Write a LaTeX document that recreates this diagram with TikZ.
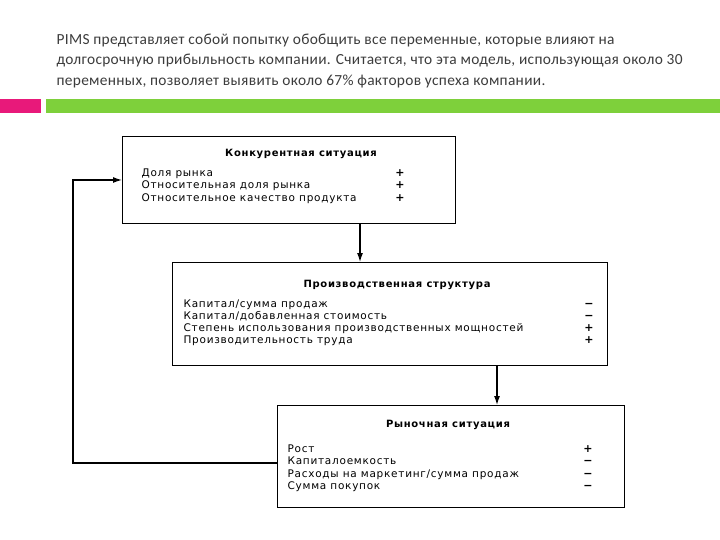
\documentclass[tikz,border=0pt]{standalone}
\usepackage{fontspec}
\setmainfont{Carlito}
\newfontfamily\scanfont[LetterSpace=7]{DejaVu Sans}
\usetikzlibrary{arrows.meta}
\definecolor{barpink}{HTML}{E8197A}
\definecolor{bargreen}{HTML}{7ED03B}
\definecolor{headgray}{HTML}{3C3C3C}

\begin{document}
\begin{tikzpicture}[x=1pt,y=-1pt,>={Latex[length=9pt,width=6pt]},line width=1.2pt]
  \tikzstyle{box}=[draw, line width=1pt, inner sep=0pt, anchor=north west]
  \tikzstyle{head}=[font=\scanfont\bfseries\fontsize{10}{11}\selectfont, anchor=base, inner sep=0pt]
  \tikzstyle{item}=[font=\scanfont\fontsize{10.5}{12}\selectfont, anchor=base west, inner sep=0pt]
  \tikzstyle{sign}=[font=\scanfont\bfseries\fontsize{11}{12}\selectfont, anchor=base, inner sep=0pt]

  \path[fill=white] (0,0) rectangle (720,540);
  \useasboundingbox (0,0) rectangle (720,540);

  % heading and bars
  \node[anchor=north west, inner sep=0pt, align=left, text=headgray,
    font=\addfontfeatures{LetterSpace=2}\fontsize{15.4}{20.5}\selectfont] (intro) at (56,33)
    {PIMS представляет собой попытку обобщить все переменные, которые влияют на\\
     долгосрочную прибыльность компании. Считается, что эта модель, использующая около 30\\
     переменных, позволяет выявить около 67\% факторов успеха компании.};
  \fill[barpink] (0,99) rectangle (41,113);
  \fill[bargreen] (46,99) rectangle (720,113);

  % boxes
  \node[box, minimum width=333pt, minimum height=87pt] (konk) at (122,136) {};
  \node[box, minimum width=435pt, minimum height=103pt] (prod) at (172,262) {};
  \node[box, minimum width=347pt, minimum height=102pt] (rynok) at (277,405) {};

  \node[head] (konkt) at (301,157) {Конкурентная ситуация};
  \node[item] (k1) at (141,177) {Доля рынка};
  \node[item] (k2) at (141,189) {Относительная доля рынка};
  \node[item] (k3) at (141,202) {Относительное качество продукта};
  \node[sign] (k1s) at (400,177) {+};
  \node[sign] (k2s) at (400,189) {+};
  \node[sign] (k3s) at (400,202) {+};

  \node[head] (prodt) at (397,287) {Производственная структура};
  \node[item] (p1) at (183,307) {Капитал/сумма продаж};
  \node[item] (p2) at (183,319) {Капитал/добавленная стоимость};
  \node[item] (p3) at (183,331) {Степень использования производственных мощностей};
  \node[item] (p4) at (183,343) {Производительность труда};
  \node[sign] (p1s) at (589,307) {−};
  \node[sign] (p2s) at (589,319) {−};
  \node[sign] (p3s) at (589,331) {+};
  \node[sign] (p4s) at (589,343) {+};

  \node[head] (rynokt) at (448,427) {Рыночная ситуация};
  \node[item] (r1) at (287,452) {Рост};
  \node[item] (r2) at (287,464) {Капиталоемкость};
  \node[item] (r3) at (287,477) {Расходы на маркетинг/сумма продаж};
  \node[item] (r4) at (287,489) {Сумма покупок};
  \node[sign] (r1s) at (588,452) {+};
  \node[sign] (r2s) at (588,464) {−};
  \node[sign] (r3s) at (588,477) {−};
  \node[sign] (r4s) at (588,489) {−};

  % connectors
  \coordinate (d1) at (360,0);
  \coordinate (d2) at (497,0);
  \coordinate (fb) at (73,463);
  \coordinate (fbtop) at (73,180);
  \draw[->] (konk.south -| d1) -- (prod.north -| d1);
  \draw[->] (prod.south -| d2) -- (rynok.north -| d2);
  \draw[->] (rynok.west |- fb) -- (fb) -- (fbtop) -- (konk.west |- fbtop);
\end{tikzpicture}
\end{document}
